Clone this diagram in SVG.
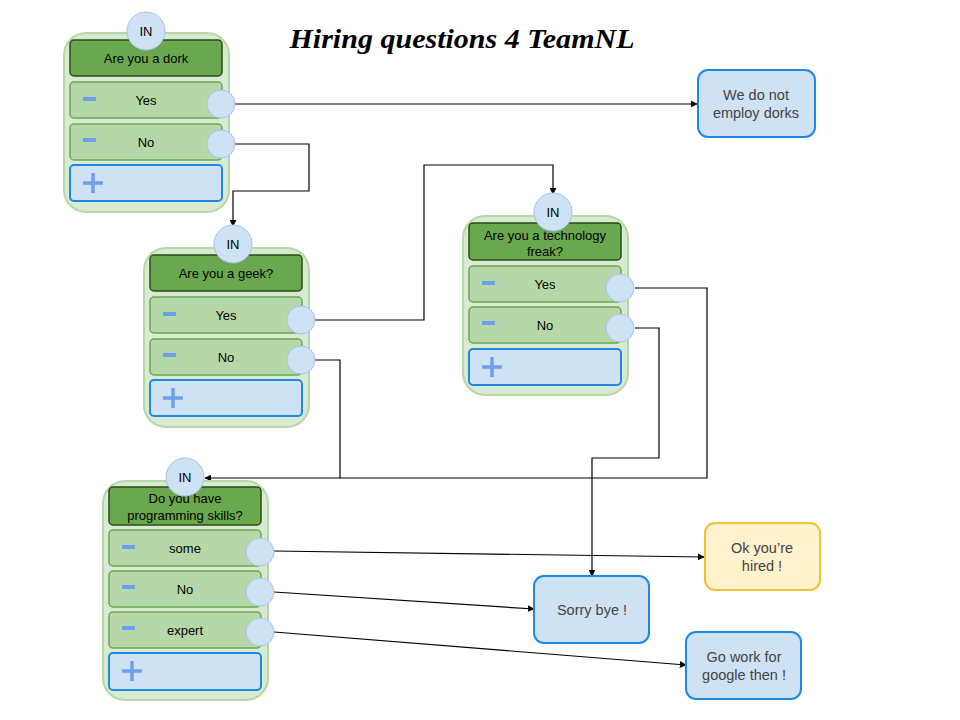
<svg xmlns="http://www.w3.org/2000/svg" width="960" height="720" viewBox="0 0 960 720">
<defs>
<style>
.outer{fill:#d9ead3;stroke:#b6d7a8;stroke-width:2}
.hdr{fill:#6aa84f;stroke:#274e13;stroke-width:1.5}
.row{fill:#b6d7a8;stroke:#6aa84f;stroke-width:1.5}
.add{fill:#cfe2f3;stroke:#1e88e5;stroke-width:2}
.port{fill:#cfe2f3;stroke:#a4c2f4;stroke-width:1}
.minus{stroke:#6d9eeb;stroke-width:4}
.plus{stroke:#6d9eeb;stroke-width:3.5;fill:none}
.t{font-family:"Liberation Sans",Arial,sans-serif;font-size:13px;fill:#000;text-anchor:middle}
.ot{font-family:"Liberation Sans",Arial,sans-serif;font-size:14.5px;fill:#434343;text-anchor:middle}
.blue{fill:#cfe2f3;stroke:#1e88e5;stroke-width:2}
.yellow{fill:#fff2cc;stroke:#f1c232;stroke-width:2}
.c{fill:none;stroke:#000;stroke-width:1.2;marker-end:url(#arr)}
.cn{fill:none;stroke:#000;stroke-width:1.2}
</style>
<marker id="arr" viewBox="0 0 10 10" refX="9" refY="5" markerWidth="7" markerHeight="7" markerUnits="userSpaceOnUse" orient="auto">
<path d="M0,0 L10,5 L0,10 z" fill="#000"/>
</marker>
</defs>
<rect width="960" height="720" fill="#fff"/>

<text x="462" y="48" text-anchor="middle" font-family="'Liberation Serif',serif" font-weight="bold" font-style="italic" font-size="28" textLength="345" lengthAdjust="spacingAndGlyphs">Hiring questions 4 TeamNL</text>

<g id="connectors">
<path class="c" d="M235,104 H697"/>
<path class="c" d="M235,144 H309 V191 H233 V226"/>
<path class="c" d="M315,320 H424 V165 H553 V194"/>
<path class="c" d="M315,360 H340 V478 H205"/>
<path class="cn" d="M635,288 H707 V478 H340"/>
<path class="c" d="M635,328 H659 V458 H592 V576"/>
<path class="c" d="M274,551 L704,557"/>
<path class="c" d="M274,592 L534,609"/>
<path class="c" d="M274,632 L686,665"/>
</g>

<g id="node-dork">
<rect class="outer" x="64" y="33" width="165" height="179" rx="22"/>
<rect class="hdr" x="70" y="40" width="152" height="36" rx="4"/>
<text class="t" x="146" y="63">Are you a dork</text>
<rect class="row" x="70" y="82" width="152" height="36" rx="4"/>
<line class="minus" x1="83" y1="99" x2="96" y2="99"/>
<text class="t" x="146" y="105">Yes</text>
<rect class="row" x="70" y="124" width="152" height="36" rx="4"/>
<line class="minus" x1="83" y1="140" x2="96" y2="140"/>
<text class="t" x="146" y="147">No</text>
<rect class="add" x="70" y="165" width="152" height="36" rx="4"/>
<path class="plus" d="M83,183 H103 M93,173 V193"/>
<circle class="port" cx="221" cy="104" r="14"/>
<circle class="port" cx="221" cy="144" r="14"/>
<circle class="port" cx="146" cy="31" r="19"/>
<text class="t" x="146" y="36">IN</text>
</g>

<g id="node-geek">
<g transform="translate(80,215)">
<rect class="outer" x="64" y="33" width="165" height="179" rx="22"/>
<rect class="hdr" x="70" y="40" width="152" height="36" rx="4"/>
<text class="t" x="146" y="63">Are you a geek?</text>
<rect class="row" x="70" y="82" width="152" height="36" rx="4"/>
<line class="minus" x1="83" y1="99" x2="96" y2="99"/>
<text class="t" x="146" y="105">Yes</text>
<rect class="row" x="70" y="124" width="152" height="36" rx="4"/>
<line class="minus" x1="83" y1="140" x2="96" y2="140"/>
<text class="t" x="146" y="147">No</text>
<rect class="add" x="70" y="165" width="152" height="36" rx="4"/>
<path class="plus" d="M83,183 H103 M93,173 V193"/>
<circle class="port" cx="221" cy="105" r="14"/>
<circle class="port" cx="221" cy="145" r="14"/>
</g>
<circle class="port" cx="233" cy="244" r="19"/>
<text class="t" x="233" y="249">IN</text>
</g>

<g id="node-tech">
<g transform="translate(399,183)">
<rect class="outer" x="64" y="33" width="165" height="179" rx="22"/>
<rect class="hdr" x="70" y="40" width="152" height="37" rx="4"/>
<text class="t" x="146" y="57">Are you a technology</text>
<text class="t" x="146" y="73">freak?</text>
<rect class="row" x="70" y="83" width="152" height="36" rx="4"/>
<line class="minus" x1="83" y1="100" x2="96" y2="100"/>
<text class="t" x="146" y="106">Yes</text>
<rect class="row" x="70" y="124" width="152" height="36" rx="4"/>
<line class="minus" x1="83" y1="140" x2="96" y2="140"/>
<text class="t" x="146" y="147">No</text>
<rect class="add" x="70" y="166" width="152" height="36" rx="4"/>
<path class="plus" d="M83,184 H103 M93,174 V194"/>
<circle class="port" cx="221" cy="105" r="14"/>
<circle class="port" cx="221" cy="145" r="14"/>
</g>
<circle class="port" cx="553" cy="212" r="19"/>
<text class="t" x="553" y="217">IN</text>
</g>

<g id="node-programming">
<g transform="translate(39,447)">
<rect class="outer" x="64" y="34" width="165" height="219" rx="22"/>
<rect class="hdr" x="70" y="40" width="152" height="38" rx="4"/>
<text class="t" x="146" y="56">Do you have</text>
<text class="t" x="146" y="73">programming skills?</text>
<rect class="row" x="70" y="83" width="152" height="36" rx="4"/>
<line class="minus" x1="83" y1="100" x2="96" y2="100"/>
<text class="t" x="146" y="106">some</text>
<rect class="row" x="70" y="124" width="152" height="36" rx="4"/>
<line class="minus" x1="83" y1="140" x2="96" y2="140"/>
<text class="t" x="146" y="147">No</text>
<rect class="row" x="70" y="165" width="152" height="36" rx="4"/>
<line class="minus" x1="83" y1="181" x2="96" y2="181"/>
<text class="t" x="146" y="188">expert</text>
<rect class="add" x="70" y="206" width="152" height="37" rx="4"/>
<path class="plus" d="M83,224 H103 M93,214 V234"/>
<circle class="port" cx="221" cy="105" r="14"/>
<circle class="port" cx="221" cy="145" r="14"/>
<circle class="port" cx="221" cy="185" r="14"/>
</g>
<circle class="port" cx="185" cy="477" r="19"/>
<text class="t" x="185" y="482">IN</text>
</g>

<g id="out-dorks">
<rect class="blue" x="698" y="70" width="117" height="67" rx="10"/>
<text class="ot" x="756" y="100">We do not</text>
<text class="ot" x="756" y="118">employ dorks</text>
</g>
<g id="out-hired">
<rect class="yellow" x="705" y="523" width="115" height="67" rx="10"/>
<text class="ot" x="762" y="553">Ok you’re</text>
<text class="ot" x="762" y="571">hired !</text>
</g>
<g id="out-sorry">
<rect class="blue" x="534" y="576" width="115" height="67" rx="10"/>
<text class="ot" x="592" y="615">Sorry bye !</text>
</g>
<g id="out-google">
<rect class="blue" x="686" y="632" width="115" height="67" rx="10"/>
<text class="ot" x="744" y="662">Go work for</text>
<text class="ot" x="744" y="680">google then !</text>
</g>
</svg>
